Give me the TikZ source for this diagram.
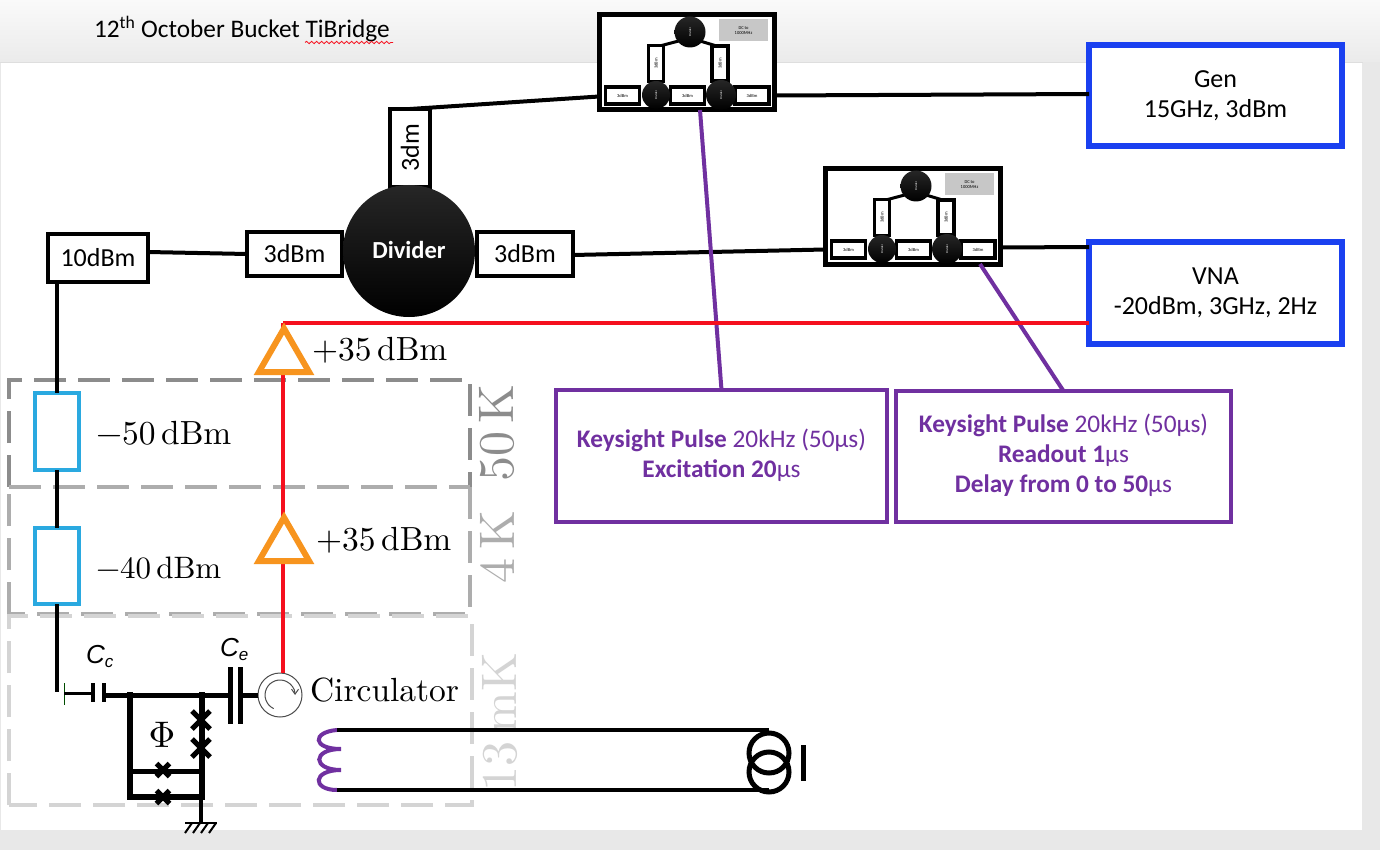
\documentclass[tikz,border=0pt]{standalone}
\usepackage{fontspec}
\newfontfamily\carl{Carlito}
\newfontfamily\lib{Liberation Sans}
\usetikzlibrary{shapes.geometric,decorations.pathmorphing,arrows.meta}
\definecolor{bblue}{HTML}{1A40F0}
\definecolor{lblue}{HTML}{2AA9E0}
\definecolor{purp}{HTML}{7030A0}
\definecolor{orng}{HTML}{F7941E}
\definecolor{redw}{HTML}{F5101E}
\newcommand{\medlabel}[1]{\scalebox{3.35}{#1}}
\newcommand{\biglabel}[1]{\scalebox{5}{#1}}
\tikzset{
  x=1pt,y=-1pt,
  every node/.style={inner sep=0pt,outer sep=0pt,align=center},
  sizeA/.style={font=\carl\fontsize{26}{30}\selectfont},
  sizeP/.style={font=\carl\fontsize{25.3}{30}\selectfont,text=purp},
  blackbox/.style={draw=black,line width=4pt,fill=white,sizeA},
  genbox/.style={draw=bblue,line width=5.5pt,fill=white,sizeA},
  pulsebox/.style={draw=purp,line width=3.5pt,fill=white,sizeP},
  attbox/.style={draw=lblue,line width=3.5pt,fill=white},
  wire/.style={draw=black,line width=4pt},
  rfwire/.style={draw=redw,line width=4pt},
  pwire/.style={draw=purp,line width=4pt},
  amp/.style={regular polygon,regular polygon sides=3,draw=orng,fill=white,line width=6pt,minimum size=58pt},
  stage/.style={dash pattern=on 32pt off 12pt,line width=3.5pt},
  minibox/.style={draw=black,line width=3.5pt,fill=white,font=\carl\fontsize{4.5}{5}\selectfont},
  ballshade/.style={circle,top color=black!85,middle color=black,bottom color=black},
  miniball/.style={ballshade,font=\carl\fontsize{3}{3}\selectfont,text=white},
  jj/.style={line width=5pt,draw=black},
}
\newcommand{\minimodule}[3]{%
  \node[draw=black,line width=5pt,fill=white,minimum width=175pt,minimum height=95pt] (#1) at (#2+89.5,#3+49.5) {};
  \begin{scope}[shift={(#2,#3)}]
    \draw[line width=3pt] (93,25) -- (59,34) (93,25) -- (123,34);
    \node[fill=black!22,font=\carl\fontsize{4.5}{5}\selectfont,minimum width=49pt,minimum height=22pt] (#1g) at (146.5,17.5) {DC to\\1000MHz};
    \node[miniball,minimum size=31pt] (#1t) at (93,19) {\rotatebox{90}{Divider}};
    \node[minibox,rotate=90,minimum width=36pt,minimum height=15pt] (#1a) at (59,50.5) {3dBm};
    \node[minibox,rotate=90,minimum width=35pt,minimum height=16pt] (#1b) at (123,50.5) {3dBm};
    \node[minibox,minimum width=34pt,minimum height=17pt] (#1c) at (25.5,82.5) {3dBm};
    \node[minibox,minimum width=34pt,minimum height=17pt] (#1d) at (90.5,82.5) {3dBm};
    \node[minibox,minimum width=34pt,minimum height=17pt] (#1e) at (155,82.5) {3dBm};
    \node[miniball,minimum size=28pt] (#1l) at (59,82) {\rotatebox{90}{Divider}};
    \node[miniball,minimum size=30pt] (#1r) at (124,82) {\rotatebox{90}{Divider}};
  \end{scope}}
\newcommand{\jjcross}[4]{%
  \coordinate (#1) at (#2,#3);
  \draw[jj] (#2-#4,#3-#4) -- (#2+#4,#3+#4) (#2-#4,#3+#4) -- (#2+#4,#3-#4);}
\begin{document}
\begin{tikzpicture}
\useasboundingbox (0,0) rectangle (1380,850);
% window
\fill[black!9] (0,0) rectangle (1380,850);
\shade[top color=black!2,bottom color=black!8] (0,0) rectangle (1380,62);
\fill[black!13] (0,62) rectangle (1363,63);
\fill[white] (1,63) rectangle (1362,830);
% title
\node[anchor=base west,font=\carl\fontsize{25.3}{28}\selectfont] (title) at (94,38) {12\textsuperscript{th} October Bucket TiBridge};
\draw[redw,line width=0.8pt,decorate,decoration={snake,segment length=5pt,amplitude=1.2pt}] (305,42.5) -- (393,42.5);
% stages
\draw[stage,draw=black!45] (9,487) -- (9,380) -- (470,380) -- (470,487);
\draw[stage,draw=black!32] (9,487) -- (470,487) (9,614) -- (9,487) (470,487) -- (470,614) -- (9,614);
\draw[stage,draw=black!17] (9,805) -- (9,616) -- (472,616) -- (472,805) -- cycle;
\node[rotate=90,text=black!45] (k50) at (497,433) {\biglabel{50\,K}};
\node[rotate=90,text=black!32] (k4) at (497,547) {\biglabel{4\,K}};
\node[rotate=90,text=black!17] (k13) at (500,722) {\biglabel{13\,mK}};
% boxes
\node[genbox,minimum width=253pt,minimum height=101pt] (gen) at (1215.5,95.5) {Gen\\15GHz, 3dBm};
\node[genbox,minimum width=253pt,minimum height=102pt] (vna) at (1215.5,293) {VNA\\-20dBm, 3GHz, 2Hz};
\minimodule{ma}{597}{13}
\minimodule{mb}{823}{167}
\node[blackbox,minimum width=96pt,minimum height=44pt] (dr) at (525,254) {3dBm};
\node[blackbox,minimum width=95pt,minimum height=44pt] (dl) at (294.5,254) {3dBm};
\node[blackbox,minimum width=100pt,minimum height=48pt] (ten) at (98,258) {10dBm};
\node[blackbox,rotate=90,minimum width=78pt,minimum height=40pt] (dt) at (410,148) {3dm};
\node[ballshade,minimum size=132pt,font=\carl\bfseries\fontsize{24.5}{28}\selectfont,text=white] (div) at (409,251) {\raisebox{2pt}{Divider}};
\node[pulsebox,minimum width=331pt,minimum height=132pt] (pa) at (721.5,456) {\raisebox{-3pt}{\begin{tabular}{@{}c@{}}\textbf{Keysight Pulse} 20kHz (50µs)\\\textbf{Excitation 20}µs\end{tabular}}};
\node[pulsebox,minimum width=335pt,minimum height=131pt] (pb) at (1063.5,456.5) {\raisebox{-3pt}{\begin{tabular}{@{}c@{}}\textbf{Keysight Pulse} 20kHz (50µs)\\\textbf{Readout 1}µs\\\textbf{Delay from 0 to 50}µs\end{tabular}}};
% wires
\draw[wire] ([yshift=-33pt]ma.east) -- ([yshift=1.5pt]gen.west);
\draw[wire] ([yshift=-34pt]ma.west) -- (dt.east);
\draw[wire] ([yshift=-1pt]dr.east) -- ([yshift=-33pt]mb.west);
\draw[wire] ([yshift=-31pt]mb.east) -- ([yshift=46pt]vna.west);
\draw[wire] ([yshift=6pt]ten.east) -- (dl.west);
\draw[pwire] ([xshift=13.5pt]ma.south) -- (pa.north);
\draw[pwire] ([xshift=67.5pt]mb.south) -- (pb.north);
% attenuated line
\node[attbox,minimum width=44pt,minimum height=77pt] (a1) at (57,431.5) {};
\node[attbox,minimum width=44pt,minimum height=76pt] (a2) at (57,566) {};
\coordinate (lineEnd) at (57,692);
\draw[wire] ([xshift=-41pt]ten.south) -- (a1.north);
\draw[wire] (a1.south) -- (a2.north);
\draw[wire] (a2.south) -- (lineEnd);
\node[anchor=west] (l50) at (96,433) {\medlabel{−50\,dBm}};
\node[anchor=west] (l40) at (96,568) {\scalebox{3.1}{−40\,dBm}};
% readout line
\node[circle,draw=black!70,line width=1pt,fill=white,minimum size=44pt] (circ) at (280,695) {};
\coordinate (vr) at ([yshift=-30pt]vna.west);
\coordinate (tApexA) at (283,323);
\coordinate (tApexB) at (283,515);
\draw[rfwire] (vr) -- (tApexA);
\draw[rfwire] (tApexA) -- (tApexB);
\draw[rfwire] (tApexB) -- (circ.north -| tApexB);
\node[amp] (t1) at (284,357.5) {};
\node[amp] (t2) at (284,546.5) {};
\node[anchor=west] (g1) at (312,350) {\medlabel{+35\,dBm}};
\node[anchor=west] (g2) at (316,540) {\medlabel{+35\,dBm}};
\draw[black!70,line width=1pt,-{Straight Barb[length=5pt,width=7pt]}] (273.7,708.6) arc[start angle=115,end angle=360,radius=15];
\node[anchor=west] (cl) at (310,690) {\medlabel{Circulator}};
% qubit circuit
\draw[black!70!green,line width=1pt] (64,683) -- (64,705);
\draw[line width=3pt] (64,693) -- (92,693);
\draw[line width=4.5pt] (93,683) -- (93,702) (104,683) -- (104,702);
\draw[line width=5pt] (104,695) -- (230,695);
\draw[line width=5pt] (230,667) -- (230,724) (240,667) -- (240,724);
\draw[line width=5pt] (240,695) -- (circ.west);
\draw[line width=5.5pt,line cap=rect] (130,695) -- (130,797) -- (202,797) -- (202,695);
\draw[line width=5pt] (130,771) -- (202,771);
\jjcross{ja}{201}{720}{9}
\jjcross{jb}{201}{748}{9}
\jjcross{jc}{163}{770}{6.5}
\jjcross{jd}{163}{797}{6.5}
\node (phi) at (162,735) {\scalebox{3.7}{$\Phi$}};
\draw[line width=4pt] (201,797) -- (201,822);
\draw[line width=2.5pt] (185,823) -- (217,823);
\draw[line width=2pt] (192,823) -- (185,833) (200,823) -- (193,833) (208,823) -- (201,833) (216,823) -- (209,833);
\node[font=\lib\itshape\fontsize{26}{28}\selectfont,anchor=base west] (cc) at (86,663) {C\raisebox{-4pt}{\fontsize{17}{18}\selectfont c}};
\node[font=\lib\itshape\fontsize{26}{28}\selectfont,anchor=base west] (ce) at (220,656) {C\raisebox{-4pt}{\fontsize{17}{18}\selectfont e}};
% resonator
\coordinate (ltop) at (337,730);
\coordinate (lbot) at (337,790);
\coordinate (srcT) at (769,730);
\coordinate (srcB) at (769,790);
\draw[purp,line width=4pt] (ltop) .. controls (312,732) and (312,749) .. (341,749) .. controls (312,749) and (312,770) .. (341,770) .. controls (312,770) and (312,790) .. (lbot);
\draw[line width=4pt] (ltop) -- (srcT);
\draw[line width=4pt] (lbot) -- (srcB);
\node[circle,draw=black,line width=5pt,minimum size=40pt] (s1) at (769,753) {};
\node[circle,draw=black,line width=5pt,minimum size=40pt] (s2) at (769,772) {};
\draw[line width=5pt] (803,745) -- (803,781);
\end{tikzpicture}
\end{document}
